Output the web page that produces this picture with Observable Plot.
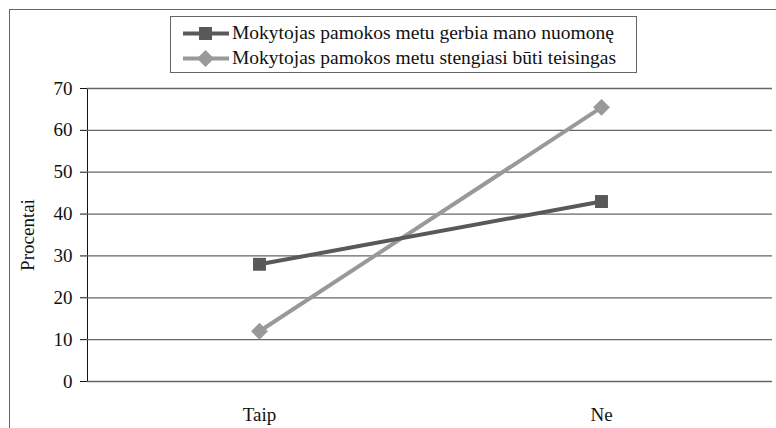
<!DOCTYPE html>
<html>
<head>
<meta charset="utf-8">
<script src="https://cdn.jsdelivr.net/npm/d3@7"></script>
<script src="https://cdn.jsdelivr.net/npm/@observablehq/plot@0.6"></script>
<style>
  html, body { margin: 0; padding: 0; background: #fff; }
  #wrap { position: relative; width: 776px; height: 428px; overflow: hidden; font-family: "Liberation Serif", "Times New Roman", Times, "DejaVu Serif", serif; }
  #frame { position: absolute; left: 9px; top: 9px; width: 780px; height: 440px; border: 1px solid #666; box-sizing: border-box; }
  #chart { position: absolute; left: 0; top: 0; }
  #legend { position: absolute; left: 170px; top: 16px; width: 467px; height: 57px; border: 1px solid #666; box-sizing: border-box; background: #fff; font-size: 19.5px; color: #111; }
  .row { position: absolute; left: 12px; height: 24px; display: flex; align-items: center; white-space: nowrap; }
  .row svg { margin-right: 3px; }
</style>
</head>
<body>
<div id="wrap">
  <div id="frame"></div>
  <div id="chart"></div>
  <div id="legend"></div>
</div>
<script>
const categories = ["Taip", "Ne"];
const seriesNames = [
  "Mokytojas pamokos metu gerbia mano nuomonę",
  "Mokytojas pamokos metu stengiasi būti teisingas"
];
const series1 = [28, 43];
const series2 = [12, 65.5];
const yTicks = [0, 10, 20, 30, 40, 50, 60, 70];
const yLabel = "Procentai";
const colors = ["#595959", "#999999"];

const data = [];
categories.forEach((c, i) => {
  data.push({cat: c, value: series1[i], s: seriesNames[0]});
  data.push({cat: c, value: series2[i], s: seriesNames[1]});
});
const d1 = data.filter(d => d.s === seriesNames[0]);
const d2 = data.filter(d => d.s === seriesNames[1]);

const font = '"Liberation Serif", "Times New Roman", Times, "DejaVu Serif", serif';

const plot = Plot.plot({
  width: 776,
  height: 428,
  marginLeft: 87,
  marginRight: 4,
  marginTop: 88,
  marginBottom: 47,
  style: {fontFamily: font, fontSize: "19px", color: "#111", background: "transparent", overflow: "visible"},
  x: {type: "point", domain: categories, padding: 0.5, label: null, tickSize: 0, tickPadding: 26},
  y: {domain: [0, 70], ticks: yTicks, label: null, tickSize: 7, tickPadding: 8, line: true},
  marks: [
    Plot.ruleY(yTicks, {stroke: "#666666", strokeWidth: 1.3}),
    Plot.text([yLabel], {frameAnchor: "left", textAnchor: "middle", dx: -60, rotate: -90, fontSize: 19, fill: "#111"}),
    Plot.line(d2, {x: "cat", y: "value", stroke: colors[1], strokeWidth: 4}),
    Plot.dot(d2, {x: "cat", y: "value", symbol: d3.symbolDiamond2, r: 7.6, fill: colors[1]}),
    Plot.line(d1, {x: "cat", y: "value", stroke: colors[0], strokeWidth: 4}),
    Plot.dot(d1, {x: "cat", y: "value", symbol: "square", r: 7.3, fill: colors[0]})
  ]
});
document.getElementById("chart").appendChild(plot);

const legend = document.getElementById("legend");
const sq = '<rect x="16" y="5" width="13" height="13" fill="' + colors[0] + '"/>';
const dm = '<path d="M22.5,3 L31,11.5 L22.5,20 L14,11.5 Z" fill="' + colors[1] + '"/>';
seriesNames.forEach((name, i) => {
  const row = document.createElement("div");
  row.className = "row";
  row.style.top = (i === 0 ? 4 : 29) + "px";
  row.innerHTML = '<svg width="46" height="23"><line x1="0" y1="11.5" x2="46" y2="11.5" stroke="' + colors[i] + '" stroke-width="4"/>' + (i === 0 ? sq : dm) + '</svg><span>' + name + '</span>';
  legend.appendChild(row);
});
</script>
</body>
</html>
